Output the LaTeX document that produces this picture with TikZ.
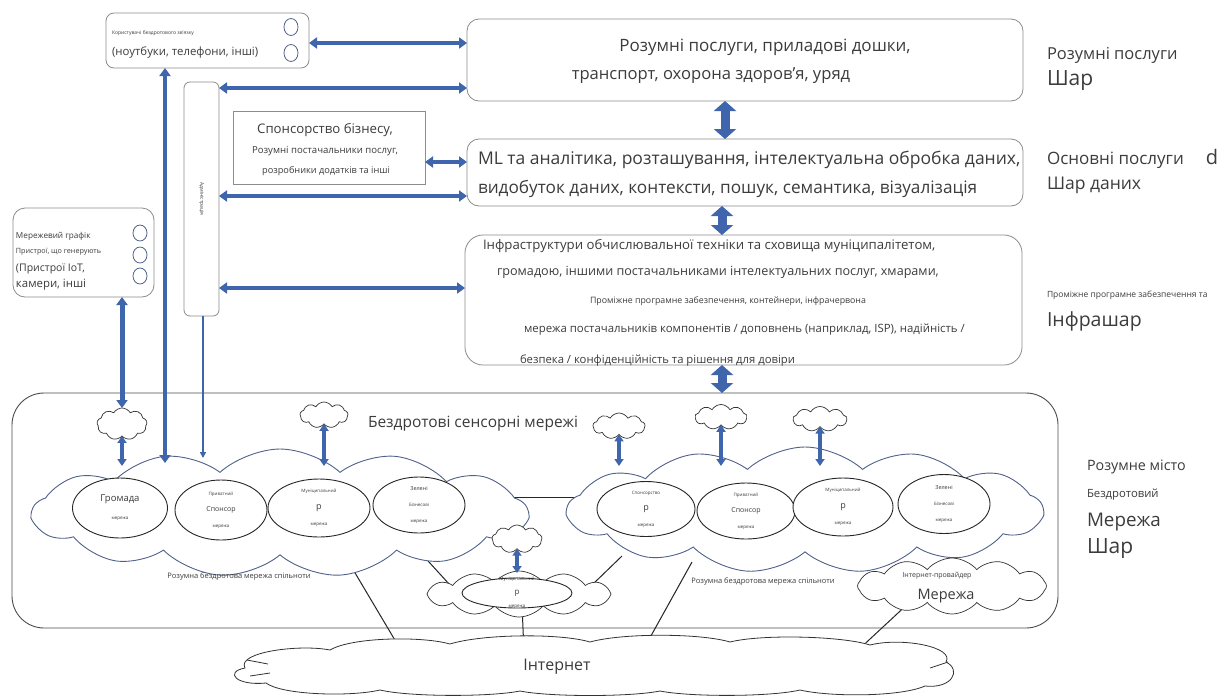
\documentclass[tikz,border=0pt]{standalone}
\usepackage{fontspec}
\setmainfont{Open Sans}
\usetikzlibrary{shapes.symbols,shapes.geometric,arrows.meta}
\definecolor{arr}{HTML}{3F66AD}
\definecolor{boxc}{HTML}{8C8C8C}
\definecolor{txt}{HTML}{3C3C3C}
\definecolor{cldc}{HTML}{50618A}
\newcommand\fsz[1]{\fontsize{#1}{#1}\selectfont}
\begin{document}
\begin{tikzpicture}[x=1pt,y=-1pt,
 every node/.style={text=txt,inner sep=0pt,outer sep=0pt},
 rbox/.style={draw=boxc,line width=0.8pt,rounded corners=12pt,fill=white},
 sbox/.style={draw=boxc,line width=0.8pt,fill=white},
 dot/.style={ellipse,draw=cldc,line width=0.8pt,minimum width=14,minimum height=17},
 ell/.style={ellipse,draw=black!85,line width=0.9pt,fill=white},
 etxt/.style={align=center},
 bigcloud/.style={cloud,cloud puffs=13,cloud puff arc=85,cloud ignores aspect,draw=cldc,line width=0.9pt,fill=white},
 smcloud/.style={cloud,cloud puffs=9,cloud puff arc=120,cloud ignores aspect,draw=black!80,line width=0.7pt,fill=white},
 link/.style={draw=black!85,line width=1pt},
 harr/.style={draw=arr,line width=3.6pt,{Triangle[width=11pt,length=8pt]}-{Triangle[width=11pt,length=8pt]}},
 varr/.style={draw=arr,line width=9pt,{Triangle[width=22pt,length=10pt]}-{Triangle[width=22pt,length=10pt]}},
 carr/.style={draw=arr,line width=4pt,{Triangle[width=9pt,length=7pt]}-{Triangle[width=9pt,length=7pt]}},
 tarr/.style={draw=arr,line width=2pt,-{Triangle[width=6pt,length=6pt]}},
]
\useasboundingbox (0,0) rectangle (1231,697);
\fill[white] (0,0) rectangle (1231,697);

% frame of the network layer
\node[draw=black!70,line width=0.9pt,rounded corners=32pt,minimum width=1046,minimum height=235] (frame) at (535,510.5) {};

% connection points for the links
\coordinate (l1a) at (345,556); \coordinate (l1b) at (402,652);
\coordinate (l2a) at (418,550); \coordinate (l2b) at (450,585);
\coordinate (l3a) at (592,585); \coordinate (l3b) at (622,556);
\coordinate (l4a) at (692,562); \coordinate (l4b) at (642,652);
\coordinate (l5a) at (522,605); \coordinate (l5b) at (524,652);
\coordinate (l6a) at (912,600); \coordinate (l6b) at (856,652);
\coordinate (l7a) at (495,497); \coordinate (l7b) at (600,497);
\draw[link] (l1a) -- (l1b);
\draw[link] (l2a) -- (l2b);
\draw[link] (l3a) -- (l3b);
\draw[link] (l4a) -- (l4b);
\draw[link] (l5a) -- (l5b);
\draw[link] (l6a) -- (l6b);
\draw[link] (l7a) -- (l7b);

% internet cloud (drawn directly)
\draw[draw=black!80,line width=0.8pt,fill=white]
  (245,668) .. controls (236,652) and (300,644) .. (330,650)
  .. controls (352,637) and (422,636) .. (450,644)
  .. controls (482,634) and (560,633) .. (590,642)
  .. controls (622,633) and (700,633) .. (730,642)
  .. controls (762,634) and (842,636) .. (870,645)
  .. controls (902,637) and (955,647) .. (946,662)
  .. controls (962,670) and (952,689) .. (925,686)
  .. controls (900,697) and (830,697) .. (800,690)
  .. controls (770,697) and (690,697) .. (660,691)
  .. controls (630,697) and (550,697) .. (520,691)
  .. controls (490,697) and (410,697) .. (380,690)
  .. controls (350,697) and (282,695) .. (266,683)
  .. controls (236,686) and (224,672) .. cycle;
\draw[draw=black!80,line width=0.8pt] (247,660) -- (268,664);
\draw[draw=black!80,line width=0.8pt] (250,676) -- (270,673);
\draw[draw=black!80,line width=0.8pt] (930,668) -- (948,662);

% big clouds
\node[bigcloud,minimum width=495,minimum height=128] (lc) at (280,513) {};
\node[bigcloud,minimum width=475,minimum height=126] (rc) at (805,510) {};
\node[smcloud,cloud puffs=12,cloud puff arc=100,minimum width=184,minimum height=46] (cc) at (519,594) {};
\node[smcloud,cloud puffs=12,cloud puff arc=100,minimum width=189,minimum height=56] (pc) at (952,586) {};

% small clouds
\node[smcloud,minimum width=50,minimum height=32] (cA) at (122,424) {};
\node[smcloud,minimum width=48,minimum height=26] (cB) at (324,415) {};
\node[smcloud,minimum width=52,minimum height=26] (cC) at (619,426) {};
\node[smcloud,minimum width=52,minimum height=25] (cD) at (721,417) {};
\node[smcloud,minimum width=54,minimum height=25] (cE) at (820,419) {};
\node[smcloud,minimum width=50,minimum height=28] (cF) at (517,539) {};

% ellipses, left cloud
\node[ell,minimum width=95,minimum height=60] (e1) at (120,508) {};
\node[ell,minimum width=92,minimum height=60] (e2) at (221,510) {};
\node[ell,minimum width=102,minimum height=58] (e3) at (319,508) {};
\node[ell,minimum width=92,minimum height=56] (e4) at (419,505) {};
% ellipses, right cloud
\node[ell,minimum width=98,minimum height=55] (e5) at (646,509) {};
\node[ell,minimum width=98,minimum height=56] (e6) at (746,511) {};
\node[ell,minimum width=100,minimum height=58] (e7) at (843,507) {};
\node[ell,minimum width=92,minimum height=59] (e8) at (944,504) {};
% ellipse, centre cloud
\node[ell,minimum width=110,minimum height=30] (e9) at (517,593) {};

\node[etxt] (e1t) at (e1) {\fsz{9.5}Громада\\[6pt]\fsz{4.5}мережа};
\node[etxt] (e2t) at (e2) {\fsz{4.5}Приватний\\[4pt]\fsz{7}Спонсор\\[4pt]\fsz{4.5}мережа};
\node[etxt] (e3t) at (e3) {\fsz{4.5}Муніципальний\\[5pt]\fsz{9}р\\[4pt]\fsz{4.5}мережа};
\node[etxt] (e4t) at (e4) {\fsz{5.5}Зелені\\[4pt]\fsz{4.5}Бізнесові\\[4pt]\fsz{4.5}мережа};
\node[etxt] (e5t) at (e5) {\fsz{4.5}Спонсорство\\[4pt]\fsz{9}р\\[4pt]\fsz{4.5}мережа};
\node[etxt] (e6t) at (e6) {\fsz{4.5}Приватний\\[4pt]\fsz{7}Спонсор\\[4pt]\fsz{4.5}мережа};
\node[etxt] (e7t) at (e7) {\fsz{4.5}Муніципальний\\[5pt]\fsz{9}р\\[4pt]\fsz{4.5}мережа};
\node[etxt] (e8t) at (e8) {\fsz{5.5}Зелені\\[4pt]\fsz{4.5}Бізнесові\\[4pt]\fsz{4.5}мережа};
\node[etxt] (e9t) at (e9) {\fsz{4.5}Муніципальний\\[1.5pt]\fsz{8}р\\[1.5pt]\fsz{4.5}мережа};

\node[font=\fsz{7.5}] (lcl) at (239,577) {Розумна бездротова мережа спільноти};
\node[font=\fsz{7.5}] (rcl) at (763,582) {Розумна бездротова мережа спільноти};
\node[font=\fsz{7}] (pct) at (937,576) {Інтернет-провайдер};
\node[font=\fsz{14.5}] (pcn) at (946,596) {Мережа};
\node[font=\fsz{16}] (ict) at (557,667) {Інтернет};
\node[font=\fsz{15.5}] (wsn) at (473,424) {Бездротові сенсорні мережі};

% top boxes
\node[rbox,minimum width=556,minimum height=82] (smart) at (745,60) {};
\node[rbox,minimum width=556,minimum height=67] (data) at (745,172.5) {};
\node[rbox,rounded corners=18pt,minimum width=557,minimum height=130] (infra) at (743.5,300) {};
\node[rbox,rounded corners=8pt,minimum width=203,minimum height=55] (users) at (207.5,40.5) {};
\node[rbox,rounded corners=6pt,minimum width=35,minimum height=234] (admin) at (201.5,199) {};
\node[sbox,minimum width=192,minimum height=73] (spons) at (329,147.5) {};
\node[rbox,minimum width=141,minimum height=89] (dev) at (83.5,252.5) {};

\node[font=\fsz{17}] (s1) at (765,47) {Розумні послуги, приладові дошки,};
\node[font=\fsz{16.6}] (s2) at (711,76) {транспорт, охорона здоров’я, уряд};
\node[font=\fsz{17.5},anchor=west] (d1) at (478,160) {ML та аналітика, розташування, інтелектуальна обробка даних,};
\node[font=\fsz{17.2},anchor=west] (d2) at (478,189) {видобуток даних, контексти, пошук, семантика, візуалізація};
\node[font=\fsz{13.2},anchor=west] (i1) at (483,246) {Інфраструктури обчислювальної техніки та сховища муніципалітетом,};
\node[font=\fsz{12.6},anchor=west] (i2) at (497,272) {громадою, іншими постачальниками інтелектуальних послуг, хмарами,};
\node[font=\fsz{8.8},anchor=west] (i3) at (590,301) {Проміжне програмне забезпечення, контейнери, інфрачервона};
\node[font=\fsz{11.4},anchor=west] (i4) at (524,330) {мережа постачальників компонентів / доповнень (наприклад, ISP), надійність /};
\node[font=\fsz{11.3},anchor=west] (i5) at (520,361) {безпека / конфіденційність та рішення для довіри};

\node[font=\fsz{13.2}] (p1) at (325,130) {Спонсорство бізнесу,};
\node[font=\fsz{9.6}] (p2) at (325,151) {Розумні постачальники послуг,};
\node[font=\fsz{9.2}] (p3) at (326,171) {розробники додатків та інші};

\node[font=\fsz{5},anchor=west] (u1) at (112,33) {Користувачі бездротового зв’язку};
\node[font=\fsz{11.4},anchor=west] (u2) at (112,52) {(ноутбуки, телефони, інші)};
\node[dot] (ud1) at (291,27) {};
\node[dot] (ud2) at (291,53) {};

\node[font=\fsz{5},rotate=-90] (adm) at (201.5,199) {Адміністрація};

\node[font=\fsz{8.2},anchor=west] (v1) at (16,236) {Мережевий графік};
\node[font=\fsz{7.2},anchor=west] (v2) at (16,252) {Пристрої, що генерують};
\node[font=\fsz{10.5},anchor=west] (v3) at (16,269) {(Пристрої IoT,};
\node[font=\fsz{11.4},anchor=west] (v4) at (16,285) {камери, інші};
\node[dot,minimum height=16] (vd1) at (140,233) {};
\node[dot,minimum height=16] (vd2) at (140,255) {};
\node[dot,minimum height=16] (vd3) at (140,276) {};

% right-hand labels
\node[font=\fsz{16.5},anchor=west] (r1) at (1047,55) {Розумні послуги};
\node[font=\fsz{21},anchor=west] (r2) at (1047,81) {Шар};
\node[font=\fsz{17},anchor=west] (r3) at (1047,160) {Основні послуги};
\node[font=\fsz{20}] (r3d) at (1212,157) {d};
\node[font=\fsz{17.5},anchor=west] (r4) at (1047,185) {Шар даних};
\node[font=\fsz{8.5},anchor=west] (r5) at (1047,295) {Проміжне програмне забезпечення та};
\node[font=\fsz{19.5},anchor=west] (r6) at (1047,321) {Інфрашар};
\node[font=\fsz{14.3},anchor=west] (r7) at (1087,467) {Розумне місто};
\node[font=\fsz{11.3},anchor=west] (r8) at (1087,495) {Бездротовий};
\node[font=\fsz{18.8},anchor=west] (r9) at (1087,522) {Мережа};
\node[font=\fsz{21},anchor=west] (r10) at (1087,549) {Шар};

% helper coordinates
\coordinate (y43) at (0,43);
\coordinate (y88) at (0,88);
\coordinate (y162) at (0,162);
\coordinate (y196) at (0,196);
\coordinate (y288) at (0,288);
\coordinate (x725) at (725,0);
\coordinate (x722) at (722,0);
\coordinate (c165) at (165,463);
\coordinate (c203) at (203,458);
\coordinate (ctop) at (0,466);
\coordinate (ctopF) at (0,573);

% arrows, upper part
\draw[harr] (users.east |- y43) -- (smart.west |- y43);
\draw[harr] (admin.east |- y88) -- (smart.west |- y88);
\draw[harr] (spons.east |- y162) -- (data.west |- y162);
\draw[harr] (admin.east |- y196) -- (data.west |- y196);
\draw[harr] (admin.east |- y288) -- (infra.west |- y288);
\draw[varr] (smart.south -| x725) -- (data.north -| x725);
\draw[varr] (data.south -| x722) -- (infra.north -| x722);
\draw[varr] (infra.south -| x722) -- (frame.north -| x722);

% arrows down to the network layer
\draw[harr,line width=4.5pt] (users.south -| c165) -- (c165);
\draw[tarr] (admin.south -| c203) -- (c203);
\draw[harr,line width=5pt] (dev.south -| cA) -- (cA.north);
\draw[carr] (cA.south) -- (cA.south |- ctop);
\draw[carr] (cB.south) -- (cB.south |- ctop);
\draw[carr] (cC.south) -- (cC.south |- ctop);
\draw[carr] (cD.south) -- (cD.south |- ctop);
\draw[carr] (cE.south) -- (cE.south |- ctop);
\draw[carr] (cF.south) -- (cF.south |- ctopF);
\end{tikzpicture}
\end{document}
